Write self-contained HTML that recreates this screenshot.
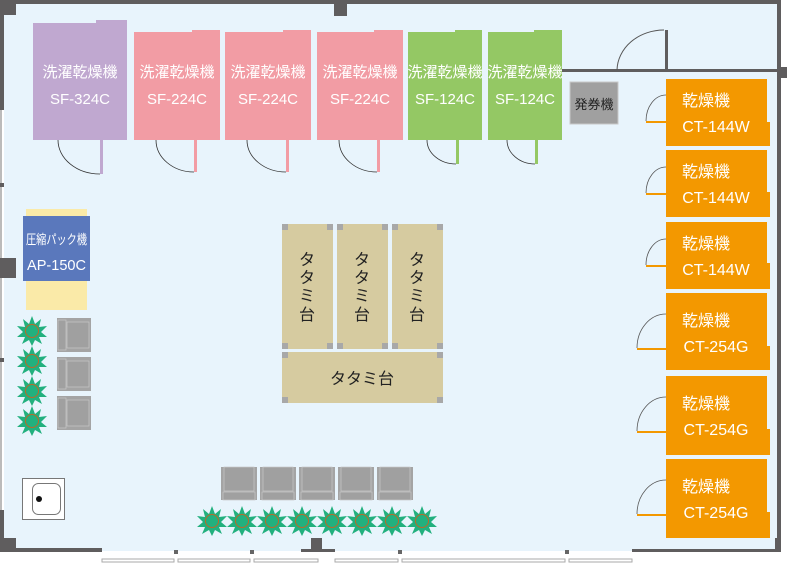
<!DOCTYPE html>
<html><head><meta charset="utf-8"><style>
html,body{margin:0;padding:0;background:#fff;}
svg{display:block;}
text{font-family:"Liberation Sans","Noto Sans CJK JP",sans-serif;}
</style></head><body>
<svg width="794" height="565" viewBox="0 0 794 565" xmlns="http://www.w3.org/2000/svg">
<defs>
<g id="plant">
<polygon points="0,-15 3,-7 9,-12 7,-4 15,-5 9,1 15,6 7,6 10,13 3,9 0,15 -3,9 -10,13 -7,6 -15,6 -9,1 -15,-5 -7,-4 -9,-12 -3,-7" fill="#22b07e"/>
<circle r="7" fill="#b86a2a"/>
<circle r="6" fill="#22b07e"/>
</g>
<g id="chairL">
<rect x="0" y="0" width="34" height="34" fill="#a4a4a4"/>
<rect x="1" y="2" width="8" height="30" fill="#a0a0a0" stroke="#c8c8c8" stroke-width="0.7"/>
<rect x="10" y="4" width="22" height="26" fill="#a0a0a0" stroke="#c8c8c8" stroke-width="0.7"/>
</g>
<g id="chairB">
<rect x="0" y="0" width="36" height="33" fill="#a4a4a4"/>
<rect x="3" y="0" width="30" height="24" fill="#a0a0a0" stroke="#c8c8c8" stroke-width="0.7"/>
<rect x="2" y="25" width="32" height="8" fill="#a0a0a0" stroke="#c8c8c8" stroke-width="0.7"/>
</g>
</defs>
<rect x="4" y="3" width="774" height="548" fill="#e8f4fc"/>
<rect x="0" y="0" width="794" height="4" fill="#5f5d5e"/>
<rect x="0" y="0" width="16" height="15" fill="#5f5d5e"/>
<rect x="0" y="0" width="4" height="110" fill="#5f5d5e"/>
<rect x="0" y="110" width="2" height="400" fill="#bbb"/>
<rect x="0" y="258" width="16" height="20" fill="#5f5d5e"/>
<rect x="0" y="183" width="4" height="4" fill="#5f5d5e"/>
<rect x="0" y="358" width="4" height="4" fill="#5f5d5e"/>
<rect x="0" y="510" width="4" height="42" fill="#5f5d5e"/>
<rect x="0" y="538" width="16" height="14" fill="#5f5d5e"/>
<rect x="0" y="548" width="102" height="4" fill="#5f5d5e"/>
<rect x="334" y="3" width="13" height="13" fill="#5f5d5e"/>
<rect x="777" y="0" width="17" height="15" fill="#5f5d5e"/>
<rect x="777" y="0" width="4" height="552" fill="#5f5d5e"/>
<rect x="781" y="0" width="13" height="565" fill="#fff"/>
<rect x="777" y="67" width="10" height="11" fill="#5f5d5e"/>
<rect x="632" y="549" width="149" height="4" fill="#5f5d5e"/>
<rect x="775" y="538" width="6" height="15" fill="#5f5d5e"/>
<rect x="311" y="538" width="11" height="15" fill="#5f5d5e"/>
<rect x="301" y="549" width="34" height="4" fill="#5f5d5e"/>
<rect x="4" y="552" width="790" height="13" fill="#fff"/>
<g fill="#666"><rect x="174" y="550" width="4" height="4"/><rect x="250" y="550" width="4" height="4"/><rect x="398" y="550" width="4" height="4"/><rect x="565" y="550" width="4" height="4"/></g>
<g fill="none" stroke="#aaa" stroke-width="1">
<rect x="102" y="559" width="72" height="3"/><rect x="178" y="559" width="72" height="3"/><rect x="254" y="559" width="64" height="3"/><rect x="335" y="559" width="63" height="3"/><rect x="402" y="559" width="163" height="3"/><rect x="569" y="559" width="63" height="3"/>
</g>
<rect x="562" y="69" width="216" height="3" fill="#5f5d5e"/>
<rect x="665" y="30" width="3" height="40" fill="#5f5d5e"/>
<path d="M617,70 A47,41 0 0 1 664,30" fill="none" stroke="#555" stroke-width="1"/>
<g fill="#fff" font-size="15" text-anchor="middle">
<path d="M33,23 H96 V20 H127 V140 H33 Z" fill="#c0a8d0"/>
<rect x="100" y="140" width="3" height="34" fill="#c0a8d0"/>
<path d="M58,140 A42,34 0 0 0 100,174" fill="none" stroke="#333" stroke-width="0.8"/>
<text x="80" y="77">洗濯乾燥機</text><text x="80" y="104">SF-324C</text>

<path d="M134,32 H192 V30 H220 V140 H134 Z" fill="#f29ca4"/>
<rect x="194" y="140" width="3" height="32" fill="#f29ca4"/>
<path d="M156,140 A38,32 0 0 0 194,172" fill="none" stroke="#333" stroke-width="0.8"/>
<text x="177" y="77">洗濯乾燥機</text><text x="177" y="104">SF-224C</text>

<path d="M225,32 H283 V30 H311 V140 H225 Z" fill="#f29ca4"/>
<rect x="286" y="140" width="3" height="32" fill="#f29ca4"/>
<path d="M247,140 A39,32 0 0 0 286,172" fill="none" stroke="#333" stroke-width="0.8"/>
<text x="268" y="77">洗濯乾燥機</text><text x="268" y="104">SF-224C</text>

<path d="M317,32 H374 V30 H403 V140 H317 Z" fill="#f29ca4"/>
<rect x="377" y="140" width="3" height="32" fill="#f29ca4"/>
<path d="M339,140 A38,32 0 0 0 377,172" fill="none" stroke="#333" stroke-width="0.8"/>
<text x="360" y="77">洗濯乾燥機</text><text x="360" y="104">SF-224C</text>

<path d="M408,32 H455 V30 H482 V140 H408 Z" fill="#94c864"/>
<rect x="456" y="140" width="3" height="24" fill="#94c864"/>
<path d="M427,140 A29,24 0 0 0 456,164" fill="none" stroke="#333" stroke-width="0.8"/>
<text x="445" y="77">洗濯乾燥機</text><text x="445" y="104">SF-124C</text>

<path d="M488,32 H534 V30 H562 V140 H488 Z" fill="#94c864"/>
<rect x="535" y="140" width="3" height="24" fill="#94c864"/>
<path d="M507,140 A28,24 0 0 0 535,164" fill="none" stroke="#333" stroke-width="0.8"/>
<text x="525" y="77">洗濯乾燥機</text><text x="525" y="104">SF-124C</text>
</g>
<rect x="570" y="82" width="48" height="42" fill="#a0a0a0" stroke="#c8c8c8" stroke-width="1"/>
<text x="594" y="109" font-size="13" fill="#222" text-anchor="middle">発券機</text>
<g font-size="16" fill="#fff" text-anchor="middle">
<g>
<path d="M666,79 H767 V122 H770 V146 H666 Z" fill="#f39800"/>
<path d="M666,95 A20,26 0 0 0 646,121" fill="none" stroke="#555" stroke-width="0.8"/><rect x="646" y="121" width="20" height="2" fill="#f39800"/>
<text x="706" y="106">乾燥機</text><text x="716" y="132">CT-144W</text>
</g>
<g>
<path d="M666,150 H767 V192 H770 V217 H666 Z" fill="#f39800"/>
<path d="M666,167 A20,26 0 0 0 646,193" fill="none" stroke="#555" stroke-width="0.8"/><rect x="646" y="193" width="20" height="2" fill="#f39800"/>
<text x="706" y="177">乾燥機</text><text x="716" y="203">CT-144W</text>
</g>
<g>
<path d="M666,222 H767 V263 H770 V289 H666 Z" fill="#f39800"/>
<path d="M666,239 A20,26 0 0 0 646,265" fill="none" stroke="#555" stroke-width="0.8"/><rect x="646" y="265" width="20" height="2" fill="#f39800"/>
<text x="706" y="249">乾燥機</text><text x="716" y="275">CT-144W</text>
</g>
<g>
<path d="M666,293 H767 V346 H770 V370 H666 Z" fill="#f39800"/>
<path d="M666,314 A29,34 0 0 0 637,348" fill="none" stroke="#555" stroke-width="0.8"/><rect x="637" y="348" width="29" height="2" fill="#f39800"/>
<text x="706" y="326">乾燥機</text><text x="716" y="352">CT-254G</text>
</g>
<g>
<path d="M666,376 H767 V429 H770 V455 H666 Z" fill="#f39800"/>
<path d="M666,397 A29,34 0 0 0 637,431" fill="none" stroke="#555" stroke-width="0.8"/><rect x="637" y="431" width="29" height="2" fill="#f39800"/>
<text x="706" y="409">乾燥機</text><text x="716" y="435">CT-254G</text>
</g>
<g>
<path d="M666,459 H767 V512 H770 V538 H666 Z" fill="#f39800"/>
<path d="M666,480 A29,34 0 0 0 637,514" fill="none" stroke="#555" stroke-width="0.8"/><rect x="637" y="514" width="29" height="2" fill="#f39800"/>
<text x="706" y="492">乾燥機</text><text x="716" y="518">CT-254G</text>
</g>
</g>
<g fill="#d6cba0"><rect x="282" y="224" width="51" height="125"/><rect x="337" y="224" width="51" height="125"/><rect x="392" y="224" width="51" height="125"/><rect x="282" y="352" width="161" height="51"/></g>
<g fill="#a8a8a8">
<rect x="282" y="224" width="6" height="6"/><rect x="327" y="224" width="6" height="6"/><rect x="282" y="343" width="6" height="6"/><rect x="327" y="343" width="6" height="6"/>
<rect x="337" y="224" width="6" height="6"/><rect x="382" y="224" width="6" height="6"/><rect x="337" y="343" width="6" height="6"/><rect x="382" y="343" width="6" height="6"/>
<rect x="392" y="224" width="6" height="6"/><rect x="437" y="224" width="6" height="6"/><rect x="392" y="343" width="6" height="6"/><rect x="437" y="343" width="6" height="6"/>
<rect x="282" y="352" width="6" height="6"/><rect x="437" y="352" width="6" height="6"/><rect x="282" y="397" width="6" height="6"/><rect x="437" y="397" width="6" height="6"/>
</g>
<g font-size="16" fill="#222" text-anchor="middle">
<text x="307" y="265">タ</text><text x="307" y="283">タ</text><text x="307" y="301">ミ</text><text x="307" y="320">台</text>
<text x="362" y="265">タ</text><text x="362" y="283">タ</text><text x="362" y="301">ミ</text><text x="362" y="320">台</text>
<text x="417" y="265">タ</text><text x="417" y="283">タ</text><text x="417" y="301">ミ</text><text x="417" y="320">台</text>
<text x="362" y="384">タタミ台</text>
</g>
<rect x="26" y="209" width="61" height="101" fill="#faeaa8"/>
<rect x="23" y="216" width="67" height="65" fill="#5a78bc"/>
<text x="26" y="244" font-size="13" fill="#fff" textLength="61" lengthAdjust="spacingAndGlyphs">圧縮パック機</text>
<text x="27" y="270" font-size="15" fill="#fff" textLength="59" lengthAdjust="spacingAndGlyphs">AP-150C</text>
<use href="#chairL" x="57" y="318"/><use href="#chairL" x="57" y="357"/><use href="#chairL" x="57" y="396"/>
<use href="#chairB" x="221" y="467"/><use href="#chairB" x="260" y="467"/><use href="#chairB" x="299" y="467"/><use href="#chairB" x="338" y="467"/><use href="#chairB" x="377" y="467"/>
<use href="#plant" x="32" y="331"/><use href="#plant" x="32" y="361"/><use href="#plant" x="32" y="391"/><use href="#plant" x="32" y="421"/>
<use href="#plant" x="212" y="521"/><use href="#plant" x="242" y="521"/><use href="#plant" x="272" y="521"/><use href="#plant" x="302" y="521"/><use href="#plant" x="332" y="521"/><use href="#plant" x="362" y="521"/><use href="#plant" x="392" y="521"/><use href="#plant" x="422" y="521"/>
<rect x="22.5" y="478.5" width="42" height="41" fill="#fff" stroke="#777" stroke-width="1"/>
<rect x="32.5" y="483.5" width="28" height="31" rx="6" fill="#fff" stroke="#777" stroke-width="1"/>
<circle cx="39" cy="499" r="3" fill="#111"/>
</svg>
</body></html>
